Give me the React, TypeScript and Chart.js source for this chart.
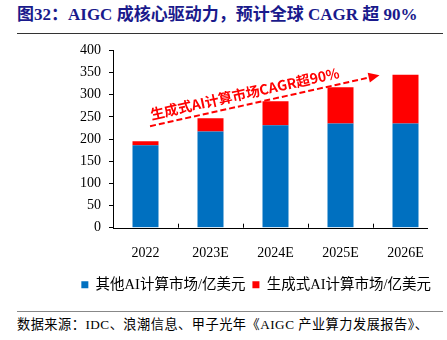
import React, { useEffect, useRef } from "react";
import { Chart, registerables } from "chart.js";

Chart.register(...registerables);

const categories = ["2022", "2023E", "2024E", "2025E", "2026E"];
const otherAI = [186, 217, 231, 235, 235];
const genAI = [9, 30, 54, 82, 110];
const seriesNames = ["其他AI计算市场/亿美元", "生成式AI计算市场/亿美元"];
const yTicks = [0, 50, 100, 150, 200, 250, 300, 350, 400];
const annotationText = "生成式AI计算市场CAGR超90%";
// arrow anchors in data space: [category index, value]
const arrowStart = [0.07, 229];
const arrowEnd = [3.6, 344];

const BLUE = "#0070C0";
const RED = "#FF0000";
const SERIF = "'Liberation Serif', 'Noto Sans CJK SC', serif";

const decorPlugin = {
  id: "decor",
  afterDatasetsDraw(chart: any) {
    const { ctx, chartArea, scales } = chart;
    const xs = scales.x;
    const ys = scales.y;
    ctx.save();
    // x axis line
    ctx.strokeStyle = "#000";
    ctx.lineWidth = 1;
    ctx.beginPath();
    ctx.moveTo(chartArea.left, Math.round(chartArea.bottom) + 0.5);
    ctx.lineTo(chartArea.right - 10, Math.round(chartArea.bottom) + 0.5);
    ctx.stroke();
    // inward tick marks between categories
    for (let i = 1; i < categories.length; i++) {
      const x = Math.round((xs.getPixelForValue(i - 1) + xs.getPixelForValue(i)) / 2) + 0.5;
      ctx.beginPath();
      ctx.moveTo(x, chartArea.bottom);
      ctx.lineTo(x, chartArea.bottom - 4);
      ctx.stroke();
    }
    // dashed arrow
    const x1 = xs.getPixelForValue(arrowStart[0]);
    const y1 = ys.getPixelForValue(arrowStart[1]);
    const x2 = xs.getPixelForValue(arrowEnd[0]);
    const y2 = ys.getPixelForValue(arrowEnd[1]);
    const ang = Math.atan2(y2 - y1, x2 - x1);
    const headLen = 11;
    const hx = x2 - headLen * Math.cos(ang);
    const hy = y2 - headLen * Math.sin(ang);
    ctx.strokeStyle = RED;
    ctx.fillStyle = RED;
    ctx.lineWidth = 2;
    ctx.setLineDash([6, 3]);
    ctx.beginPath();
    ctx.moveTo(x1, y1);
    ctx.lineTo(hx, hy);
    ctx.stroke();
    ctx.setLineDash([]);
    ctx.beginPath();
    ctx.moveTo(x2, y2);
    ctx.lineTo(hx + 5 * Math.sin(ang), hy - 5 * Math.cos(ang));
    ctx.lineTo(hx - 5 * Math.sin(ang), hy + 5 * Math.cos(ang));
    ctx.closePath();
    ctx.fill();
    // text
    ctx.translate(x1, y1);
    ctx.rotate(ang);
    ctx.font = "bold 14px 'Noto Sans CJK SC', sans-serif";
    ctx.textAlign = "left";
    ctx.textBaseline = "alphabetic";
    ctx.fillText(annotationText, 3, -6);
    ctx.restore();
  },
};

export default function App() {
  const ref = useRef<HTMLCanvasElement>(null);
  useEffect(() => {
    if (!ref.current) return;
    const chart = new Chart(ref.current, {
      type: "bar",
      data: {
        labels: categories,
        datasets: [
          { label: seriesNames[0], data: otherAI, backgroundColor: BLUE, borderWidth: 0 },
          { label: seriesNames[1], data: genAI, backgroundColor: RED, borderWidth: 0 },
        ],
      },
      options: {
        responsive: false,
        animation: false,
        layout: { padding: { top: 0, right: 9, left: 0, bottom: 0 } },
        datasets: { bar: { categoryPercentage: 1, barPercentage: 0.4 } },
        plugins: {
          legend: {
            position: "bottom",
            align: "end",
            labels: {
              boxWidth: 7,
              boxHeight: 7,
              padding: 7,
              color: "#000",
              font: { family: SERIF, size: 14.5 },
            },
          },
          tooltip: { enabled: false },
        },
        scales: {
          x: {
            stacked: true,
            grid: { display: false },
            border: { display: false },
            ticks: { color: "#000", padding: 9, font: { family: SERIF, size: 14 } },
          },
          y: {
            stacked: true,
            min: 0,
            max: 400,
            afterBuildTicks: (s: any) => {
              s.ticks = yTicks.map((v) => ({ value: v }));
            },
            afterFit: (s: any) => {
              s.width = 113;
            },
            grid: { drawOnChartArea: false, tickLength: 4, color: "#000" },
            border: { display: true, color: "#000", width: 1 },
            ticks: { color: "#000", padding: 8, font: { family: SERIF, size: 14 } },
          },
        },
      },
      plugins: [decorPlugin],
    });
    return () => chart.destroy();
  }, []);

  return (
    <div style={{ position: "absolute", left: 0, top: 0, width: 447, height: 340, background: "#fff" }}>
      <div
        style={{
          position: "absolute",
          left: 17,
          top: 4,
          width: 426,
          height: 29,
          borderBottom: "1.5px solid #333",
          fontFamily: SERIF,
          fontWeight: "bold",
          fontSize: 17,
          lineHeight: "22px",
          color: "#1a1a8c",
          whiteSpace: "nowrap",
        }}
      >
        图32：AIGC 成核心驱动力，预计全球 CAGR 超 90%
      </div>
      <canvas
        ref={ref}
        width={447}
        height={268}
        style={{ position: "absolute", left: 0, top: 34, width: 447, height: 268, display: "block" }}
      />
      <div
        style={{
          position: "absolute",
          left: 17,
          top: 311,
          width: 426,
          borderTop: "1px solid #888",
          paddingTop: 4,
          fontFamily: SERIF,
          fontSize: 13.2,
          letterSpacing: "0.5px",
          lineHeight: "18px",
          color: "#000",
          whiteSpace: "nowrap",
        }}
      >
        数据来源：IDC、浪潮信息、甲子光年《AIGC 产业算力发展报告》、
      </div>
    </div>
  );
}
